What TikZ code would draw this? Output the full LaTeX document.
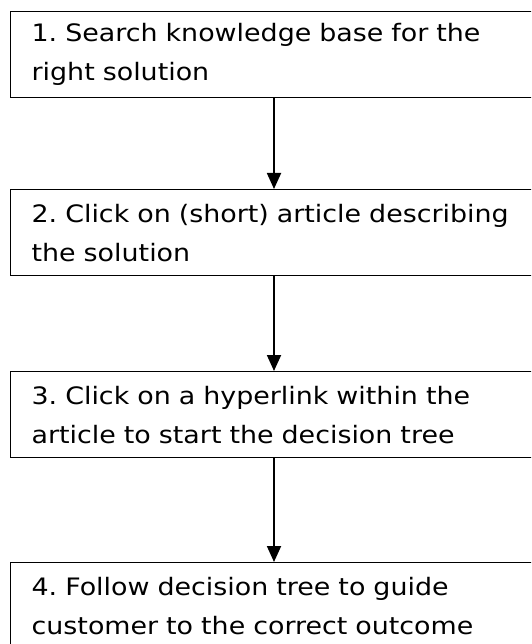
\documentclass[tikz,border=0pt]{standalone}
\usepackage{fontspec}
\setmainfont{DejaVu Sans}[FakeStretch=1.12, WordSpace=1.2]
\usetikzlibrary{arrows.meta}
\tikzset{
  stepbox/.style={draw=black, line width=1.3pt, rectangle, anchor=north west,
    text width=600pt, inner xsep=21.5pt, inner ysep=0pt, minimum height=86pt,
    align=left, font=\fontsize{24}{39}\selectfont\frenchspacing},
  flow/.style={line width=1.8pt, -{Triangle[width=14pt,length=16pt]}}
}
\begin{document}
\begin{tikzpicture}[x=1pt,y=1pt]
\useasboundingbox (0,0) rectangle (531,-644);
\clip (0,0) rectangle (531,-644);
\node[stepbox] (b1) at (9.5,-11) {1. Search knowledge base for the\\right solution};
\node[stepbox] (b2) at (9.5,-189) {2. Click on (short) article describing\\the solution};
\node[stepbox] (b3) at (9.5,-371) {3. Click on a hyperlink within the\\article to start the decision tree};
\node[stepbox] (b4) at (9.5,-562) {4. Follow decision tree to guide\\customer to the correct outcome};
\coordinate (ax) at (274,0);
\draw[flow] (b1.south -| ax) -- (b2.north -| ax);
\draw[flow] (b2.south -| ax) -- (b3.north -| ax);
\draw[flow] (b3.south -| ax) -- (b4.north -| ax);
\end{tikzpicture}
\end{document}
